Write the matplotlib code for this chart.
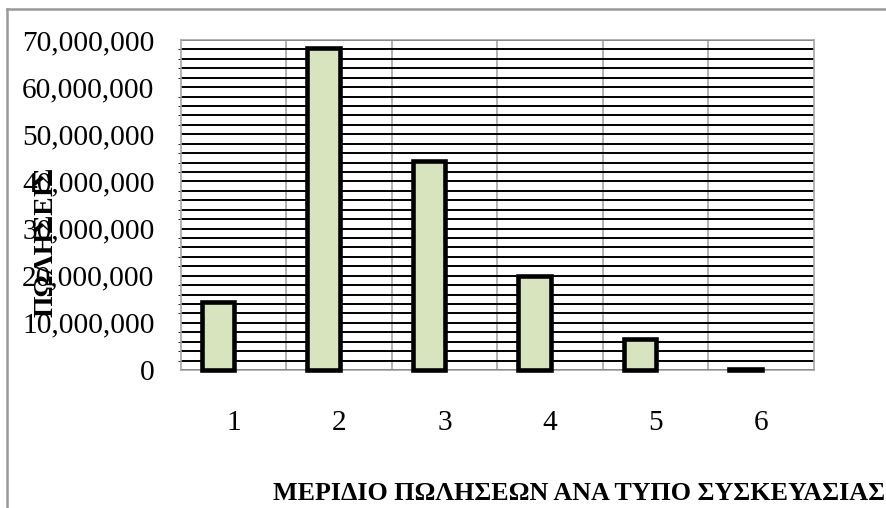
import matplotlib
matplotlib.use("Agg")
import matplotlib.pyplot as plt
from matplotlib.ticker import MultipleLocator, FuncFormatter
from matplotlib.lines import Line2D

categories = [1, 2, 3, 4, 5, 6]
sales = [14500000, 68300000, 44300000, 20000000, 6600000, 150000]
y_label = "ΠΩΛΗΣΕΙΣ"
x_title = "ΜΕΡΙΔΙΟ ΠΩΛΗΣΕΩΝ ΑΝΑ ΤΥΠΟ ΣΥΣΚΕΥΑΣΙΑΣ"

plt.rcParams['font.family'] = ['Liberation Serif', 'DejaVu Serif']

fig = plt.figure(figsize=(8.87, 5.08), dpi=100)
W, H = 887, 508
ax = fig.add_axes([181 / W, 1 - 370 / H, (814 - 181) / W, (370 - 40) / H])

x = list(range(len(categories)))
ax.bar([i - 0.15 for i in x], sales, width=0.31, color="#D7E4BD",
       edgecolor="black", linewidth=3.3, zorder=3, clip_on=False)

ax.set_xlim(-0.5, len(categories) - 0.5)
ax.set_ylim(0, 70000000)
ax.yaxis.set_major_locator(MultipleLocator(10000000))
ax.yaxis.set_minor_locator(MultipleLocator(2000000))
ax.yaxis.set_major_formatter(FuncFormatter(lambda v, p: f"{int(v):,}"))
ax.grid(axis="y", which="both", color="black", linewidth=1.4, zorder=1)
for b in [i + 0.5 for i in x[:-1]]:
    ax.axvline(b, color="#A6A6A6", linewidth=1.2, zorder=1)

ax.set_xticks(x)
ax.set_xticklabels([str(c) for c in categories])
ax.tick_params(axis="both", length=0, labelsize=21.2)
ax.tick_params(axis="y", pad=19)
ax.tick_params(axis="x", pad=29)
for s in ax.spines.values():
    s.set_color("#A6A6A6")
    s.set_linewidth(1.2)

fig.text(46 / W, 1 - 242 / H, y_label, rotation=90, ha="center", va="center",
         fontsize=20, fontweight="bold")
fig.text(885 / W, 1 - 493 / H, x_title, ha="right", va="center",
         fontsize=18.7, fontweight="bold")

lx = 7.5 / W
ty = 1 - 8.5 / H
fig.add_artist(Line2D([lx, lx], [0, ty], transform=fig.transFigure,
                      color="#999999", linewidth=1.8, zorder=10))
fig.add_artist(Line2D([lx, 1], [ty, ty], transform=fig.transFigure,
                      color="#999999", linewidth=1.8, zorder=10))

fig.savefig("out.png", dpi=100)
